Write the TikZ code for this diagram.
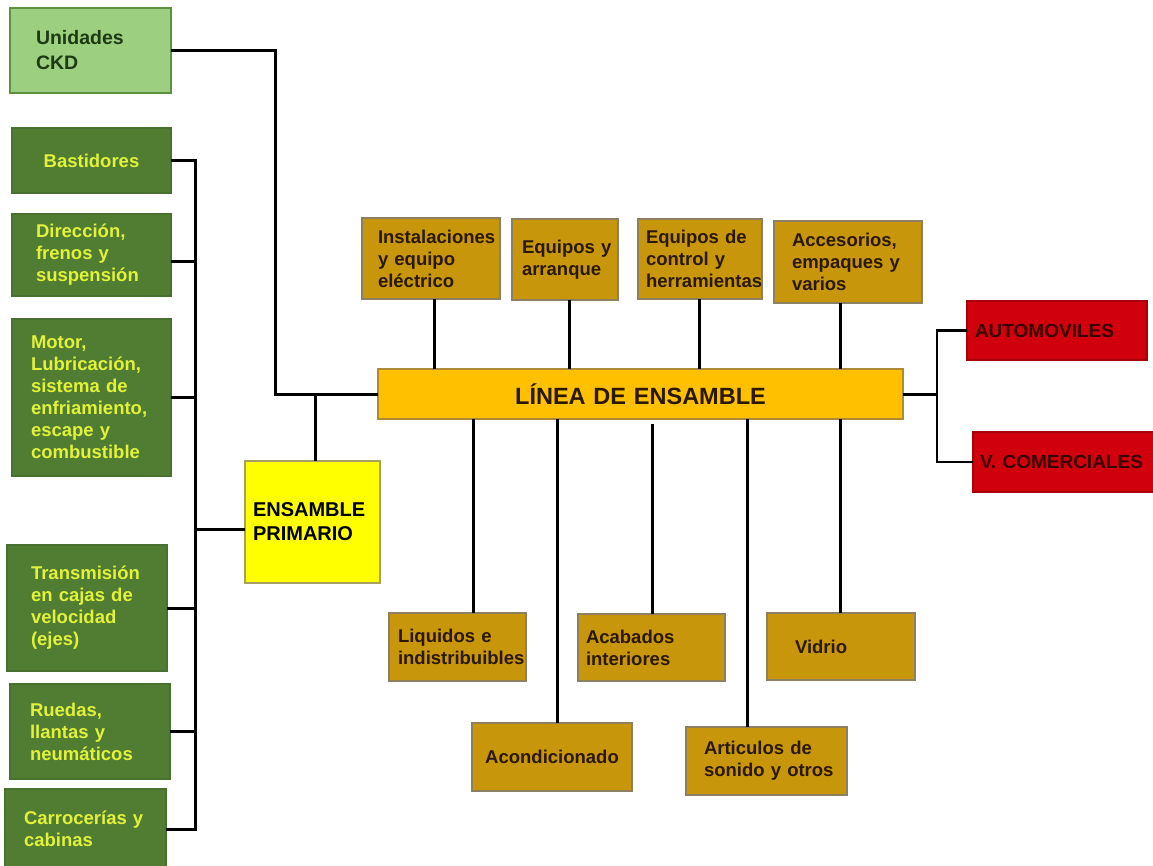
\documentclass[tikz,border=0pt]{standalone}
\usepackage{fontspec}
\setmainfont{Liberation Sans}
\definecolor{ckdfill}{HTML}{9DCF80}
\definecolor{ckdborder}{HTML}{5E9040}
\definecolor{ckdtext}{HTML}{1E3A12}
\definecolor{gfill}{HTML}{507D32}
\definecolor{gborder}{HTML}{4A7030}
\definecolor{gtext}{HTML}{E2F23C}
\definecolor{mfill}{HTML}{C8960A}
\definecolor{mborder}{HTML}{8C8060}
\definecolor{mtext}{HTML}{2A1800}
\definecolor{ofill}{HTML}{FFC000}
\definecolor{oborder}{HTML}{B08A30}
\definecolor{yfill}{HTML}{FFFF00}
\definecolor{yborder}{HTML}{A8A060}
\definecolor{rfill}{HTML}{D0000C}
\definecolor{rborder}{HTML}{A80008}
\definecolor{rtext}{HTML}{3A0000}
\tikzset{
  box/.style={draw, line width=1.5pt, anchor=north west, outer sep=0pt,
    inner xsep=0pt, inner ysep=0pt, align=left,
    font=\bfseries\fontsize{18.5}{22}\selectfont},
  ckdbox/.style={box, fill=ckdfill, draw=ckdborder, text=ckdtext, font=\bfseries\fontsize{19.5}{25}\selectfont},
  gbox/.style={box, fill=gfill, draw=gborder, text=gtext},
  mbox/.style={box, fill=mfill, draw=mborder, text=mtext},
  rbox/.style={box, fill=rfill, draw=rborder, text=rtext, font=\bfseries\fontsize{19}{23}\selectfont},
  conn/.style={line width=3pt, black},
  thinconn/.style={line width=2.2pt, black},
}
\begin{document}
\begin{tikzpicture}[x=1pt,y=-1pt]
\useasboundingbox (0,0) rectangle (1153,865);
% left column
\node[ckdbox, minimum width=161, minimum height=85, text width=109] (ckd) at (10,8) {Unidades\\CKD};
\node[gbox, minimum width=159, minimum height=65, text width=140, align=center] (bast) at (12,128) {Bastidores};
\node[gbox, minimum width=159, minimum height=82, text width=111] (dir) at (12,214) {Dirección,\\frenos~y\\suspensión};
\node[gbox, minimum width=159, minimum height=157, text width=121] (motor) at (12,319) {Motor,\\Lubricación,\\sistema~de\\enfriamiento,\\escape~y\\combustible};
\node[gbox, minimum width=160, minimum height=126, text width=112] (trans) at (7,545) {Transmisión\\en~cajas~de\\velocidad\\(ejes)};
\node[gbox, minimum width=160, minimum height=95, text width=120] (ruedas) at (10,684) {Ruedas,\\llantas~y\\neumáticos};
\node[gbox, minimum width=161, minimum height=80, text width=123] (carr) at (5,789) {Carrocerías~y\\cabinas};
% ensamble primario
\node[box, fill=yfill, draw=yborder, text=black, minimum width=135, minimum height=122, text width=119,
  font=\bfseries\fontsize{20}{24}\selectfont] (ep) at (245,461) {ENSAMBLE\\PRIMARIO};
% linea de ensamble
\node[box, fill=ofill, draw=oborder, text=mtext, minimum width=525, minimum height=50, text width=500, align=center,
  font=\bfseries\fontsize{23.5}{27}\selectfont] (linea) at (378,369) {LÍNEA DE ENSAMBLE};
% top boxes
\node[mbox, minimum width=138, minimum height=81, text width=106] (inst) at (362,218) {Instalaciones\\y~equipo\\eléctrico};
\node[mbox, minimum width=106, minimum height=81, text width=86] (eq) at (512,219) {Equipos~y\\arranque};
\node[mbox, minimum width=124, minimum height=80, text width=108] (ctrl) at (638,219) {Equipos~de\\control~y\\herramientas};
\node[mbox, minimum width=148, minimum height=82, text width=112] (acc) at (774,221) {Accesorios,\\empaques~y\\varios};
% bottom boxes
\node[mbox, minimum width=137, minimum height=68, text width=119] (liq) at (389,613) {Liquidos~e\\indistribuibles};
\node[mbox, minimum width=160, minimum height=68, text width=150, align=center] (acond) at (472,723) {Acondicionado};
\node[mbox, minimum width=147, minimum height=67, text width=131] (acab) at (578,614) {Acabados\\interiores};
\node[mbox, minimum width=148, minimum height=67, text width=92] (vid) at (767,613) {Vidrio};
\node[mbox, minimum width=161, minimum height=68, text width=125] (art) at (686,727) {Articulos~de\\sonido~y~otros};
% right boxes
\node[rbox, minimum width=180, minimum height=59, text width=164] (auto) at (967,301) {AUTOMOVILES};
\node[rbox, minimum width=185, minimum height=60, text width=171] (vcom) at (973,432) {V.~COMERCIALES};
% coordinates
\coordinate (bus) at (195,160);
\coordinate (j1) at (275,394);
\coordinate (rj) at (937,394);
% left bus
\draw[conn] (bast.east) -- (bast.east -| bus) -- (carr.east -| bus) -- (carr.east);
\draw[conn] ([yshift=-6pt]dir.east) -- ([yshift=-6pt]dir.east -| bus);
\draw[conn] (motor.east) -- (motor.east -| bus);
\draw[conn] (trans.east) -- (trans.east -| bus);
\draw[conn] (ruedas.east) -- (ruedas.east -| bus);
\draw[conn] ([yshift=-7pt]ep.west) -- ([yshift=-7pt]ep.west -| bus);
% CKD to linea
\draw[conn] (ckd.east) -| (j1) -- (linea.west);
\draw[conn] ([xshift=3pt]ep.north) -- ([xshift=3pt]ep.north |- linea.west);
% top connectors
\draw[conn] (inst.south -| 434,0) -- (linea.north -| 434,0);
\draw[conn] (eq.south -| 569,0) -- (linea.north -| 569,0);
\draw[conn] (ctrl.south -| 699,0) -- (linea.north -| 699,0);
\draw[conn] (acc.south -| 840,0) -- (linea.north -| 840,0);
% bottom connectors
\draw[conn] (linea.south -| 473,0) -- (liq.north -| 473,0);
\draw[conn] (linea.south -| 557,0) -- (acond.north -| 557,0);
\draw[conn] ([yshift=-5pt]linea.south -| 652,0) -- (acab.north -| 652,0);
\draw[conn] (linea.south -| 747,0) -- (art.north -| 747,0);
\draw[conn] (linea.south -| 840,0) -- (vid.north -| 840,0);
% right connectors
\draw[conn] (linea.east) -- (rj);
\draw[thinconn] (auto.west) -| (rj) |- (vcom.west);
\end{tikzpicture}
\end{document}
